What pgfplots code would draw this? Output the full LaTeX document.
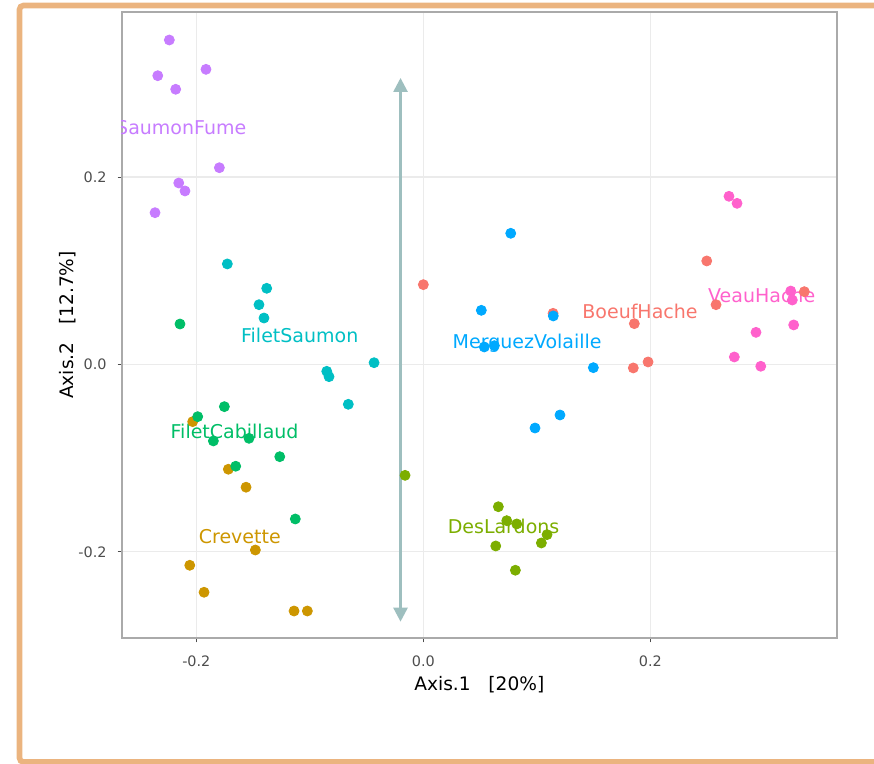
\documentclass[border=0pt]{standalone}
\usepackage{fontspec}
\setmainfont{DejaVu Sans}
\usepackage{pgfplots}
\pgfplotsset{compat=1.18}
\usetikzlibrary{arrows.meta}

\definecolor{cBoeuf}{HTML}{F8766D}
\definecolor{cCrev}{HTML}{CD9600}
\definecolor{cLard}{HTML}{7CAE00}
\definecolor{cCabi}{HTML}{00BE67}
\definecolor{cFSau}{HTML}{00BFC4}
\definecolor{cMerg}{HTML}{00A9FF}
\definecolor{cSFum}{HTML}{C77CFF}
\definecolor{cVeau}{HTML}{FF61CC}
\definecolor{frameorange}{HTML}{EBB47F}
\definecolor{arrowgray}{HTML}{9EBFBF}
\definecolor{gridgray}{HTML}{EBEBEB}
\definecolor{axgray}{HTML}{AAAAAA}
\definecolor{ticktext}{HTML}{4D4D4D}

\pgfplotsset{
  grp/.style={only marks, mark=*, mark size=2.5pt,
    mark options={draw=#1, fill=#1}},
}
\tikzset{
  lbl/.style={font=\fontsize{9.5}{11}\selectfont, text=#1, anchor=center, inner sep=0pt},
}

\begin{document}
\begin{tikzpicture}[x=1pt,y=1pt]
\path[use as bounding box] (0,0) rectangle (437,382);
\begin{axis}[
    at={(61pt,63pt)}, anchor=south west,
    scale only axis, width=357.35pt, height=313pt,
    xmin=-0.2655, xmax=0.3642, ymin=-0.2919, ymax=0.3762,
    xtick={-0.2,0,0.2}, ytick={-0.2,0,0.2},
    xticklabels={-0.2,0.0,0.2}, yticklabels={-0.2,0.0,0.2},
    /pgf/number format/assume math mode=true,
    tick label style={font=\fontsize{7.2}{8}\selectfont, text=ticktext},
    tick pos=left, tick align=outside, major tick length=2.2pt,
    tick style={ticktext, line width=0.5pt},
    grid=major, major grid style={gridgray, line width=0.6pt},
    axis line style={axgray, line width=1.1pt},
    xlabel={Axis.1\ \ \ [20\%]}, ylabel={Axis.2\ \ \ [12.7\%]},
    label style={font=\fontsize{9.3}{11}\selectfont},
    xlabel style={at={(axis description cs:0.5,-0.0751)}, anchor=center},
    ylabel style={at={(axis description cs:-0.0756,0.5)}, anchor=center},
    xticklabel style={yshift=-3pt},
    yticklabel style={xshift=-2pt},
]
% vertical arrow
\addplot[arrowgray, line width=1.3pt,
  {Triangle[width=7pt,length=7pt]}-{Triangle[width=7pt,length=7pt]}]
  coordinates {(-0.0201,-0.2745) (-0.0201,0.3058)};

\addplot[grp=cBoeuf] coordinates {(0.0,0.0852) (0.1143,0.0546) (0.2497,0.1105) (0.2579,0.0638) (0.1859,0.0436) (0.198,0.0027) (0.185,-0.0037) (0.3357,0.0777)};
\addplot[grp=cCrev] coordinates {(-0.2032,-0.061) (-0.1718,-0.1118) (-0.1562,-0.131) (-0.148,-0.198) (-0.2058,-0.2143) (-0.1932,-0.2431) (-0.1139,-0.2631) (-0.1022,-0.2631)};
\addplot[grp=cLard] coordinates {(-0.0161,-0.1183) (0.0661,-0.1518) (0.0735,-0.1667) (0.0823,-0.1702) (0.109,-0.1816) (0.104,-0.1905) (0.0638,-0.1937) (0.0811,-0.2196)};
\addplot[grp=cCabi] coordinates {(-0.2144,0.0432) (-0.1753,-0.045) (-0.1988,-0.0557) (-0.185,-0.0816) (-0.1536,-0.0788) (-0.1265,-0.0984) (-0.1653,-0.1086) (-0.1128,-0.1649)};
\addplot[grp=cFSau] coordinates {(-0.1727,0.1073) (-0.138,0.0813) (-0.1448,0.0638) (-0.1404,0.0496) (-0.0434,0.0019) (-0.0851,-0.0073) (-0.0831,-0.013) (-0.0661,-0.0425)};
\addplot[grp=cMerg] coordinates {(0.077,0.140) (0.0511,0.0578) (0.1145,0.0518) (0.0537,0.0187) (0.0626,0.0201) (0.1498,-0.0034) (0.0984,-0.0678) (0.1204,-0.0539)};
\addplot[grp=cSFum] coordinates {(-0.2238,0.3463) (-0.234,0.3082) (-0.1915,0.315) (-0.2182,0.2937) (-0.1797,0.210) (-0.2155,0.1937) (-0.21,0.1852) (-0.2364,0.162)};
\addplot[grp=cVeau] coordinates {(0.2693,0.1795) (0.2764,0.172) (0.3237,0.0784) (0.3251,0.0688) (0.3263,0.0422) (0.2931,0.0343) (0.274,0.008) (0.2973,-0.0019)};

% group labels
\node[lbl=cBoeuf] at (axis cs:0.1909,0.0571) {BoeufHache};
\node[lbl=cCrev] at (axis cs:-0.1617,-0.1838) {Crevette};
\node[lbl=cLard] at (axis cs:0.0707,-0.1724) {DesLardons};
\node[lbl=cCabi] at (axis cs:-0.1663,-0.0717) {FiletCabillaud};
\node[lbl=cFSau] at (axis cs:-0.1089,0.0315) {FiletSaumon};
\node[lbl=cMerg] at (axis cs:0.0915,0.0226) {MerguezVolaille};
\node[lbl=cVeau] at (axis cs:0.2981,0.0742) {VeauHache};
\begin{scope}
  \clip (rel axis cs:0,0) rectangle (rel axis cs:1,1);
  \node[lbl=cSFum] at (axis cs:-0.2133,0.2531) {SaumonFume};
\end{scope}
\end{axis}
% outer orange frame
\draw[frameorange, line width=2.8pt, rounded corners=2pt]
  (445,379.25) -- (9.75,379.25) -- (9.75,1) -- (445,1);
\end{tikzpicture}
\end{document}
